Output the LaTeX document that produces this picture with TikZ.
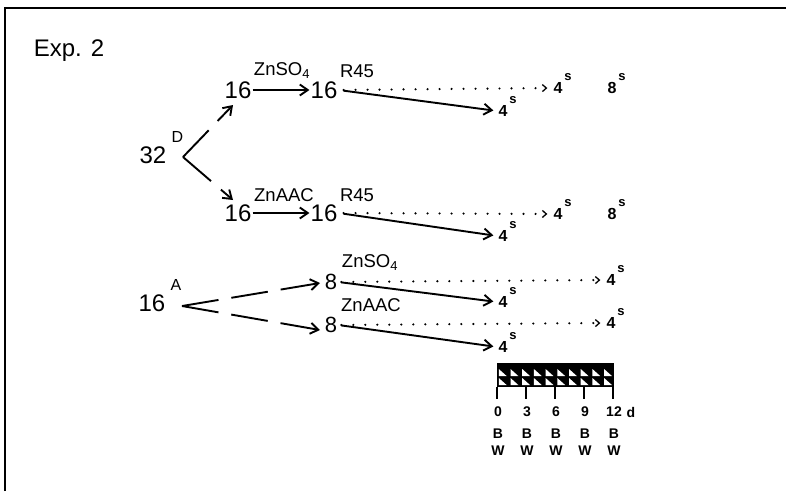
\documentclass[tikz,border=0pt]{standalone}
\usepackage{fontspec}
\setmainfont{Liberation Sans}
\usetikzlibrary{arrows.meta, calc}

\begin{document}
\begin{tikzpicture}[
  x=1pt, y=-1pt,
  > = {Straight Barb[length=8pt,width=11pt]},
  num/.style = {inner sep=1pt, font=\fontsize{24}{24}\selectfont},
  mid/.style = {inner sep=1pt, font=\fontsize{22}{22}\selectfont},
  chem/.style = {inner sep=1pt, font=\fontsize{18.5}{18.5}\selectfont},
  res/.style = {inner sep=1pt, font=\bfseries\fontsize{16}{16}\selectfont},
  sup/.style = {inner sep=0.5pt, label distance=0pt, font=\bfseries\fontsize{13}{13}\selectfont},
  supbig/.style = {inner sep=0.5pt, label distance=4pt, font=\fontsize{16}{16}\selectfont},
  day/.style = {inner sep=1pt, font=\bfseries\fontsize{14}{14}\selectfont},
  full arrow/.style = {->, line width=1.9pt},
  split arrow/.style = {->, line width=1.9pt, dash pattern=on 37pt off 13pt},
  dot arrow/.style = {line width=2.4pt, line cap=round, dash pattern=on 0pt off 12pt,
    -{Straight Barb[length=4pt,width=7pt,line width=1.3pt]}}
  ]
  \useasboundingbox (0,0) rectangle (786,491);
  % frame
  \draw[line width=2.4pt] (5,491) -- (5,8) -- (786,8);
  \node[num] (exp) at (69,51) {Exp. 2};

  % first split
  \node[num, label={[supbig]north east:D}] (d32) at (153,155) {32};
  \coordinate (fork1) at (183,157);
  \coordinate (tip1) at (233,105);
  \coordinate (tip2) at (233,200);
  \node[num] (s16a) at (238,90) {16};
  \node[num] (s16b) at (324,90) {16};
  \node[num] (a16a) at (238,213) {16};
  \node[num] (a16b) at (324,213) {16};
  \node[chem] (zso1) at (282,71) {ZnSO\textsubscript{4}};
  \node[chem] (rs1) at (357,71) {R45};
  \node[chem] (zac1) at (284,195) {ZnAAC};
  \node[chem] (rs2) at (357,195) {R45};
  \node[res, label={[sup]north east:s}] (s4t) at (503,111) {4};
  \node[res, label={[sup]north east:s}] (s4r) at (558,88) {4};
  \node[res, label={[sup]north east:s}] (s8r) at (612,88) {8};
  \node[res, label={[sup]north east:s}] (a4t) at (503,236) {4};
  \node[res, label={[sup]north east:s}] (a4r) at (558,214) {4};
  \node[res, label={[sup]north east:s}] (a8r) at (612,214) {8};
  \draw[split arrow] (fork1) -- (tip1);
  \draw[split arrow] (fork1) -- (tip2);
  \draw[full arrow] (s16a) -- (s16b);
  \draw[full arrow] (a16a) -- (a16b);
  \draw[full arrow, shorten <=5pt, shorten >=4pt] (s16b.east) -- (s4t.west);
  \draw[full arrow, shorten <=5pt, shorten >=4pt] (a16b.east) -- (a4t.west);
  \draw[dot arrow, shorten <=5pt, shorten >=5pt] (s16b.east) -- (s4r.west);
  \draw[dot arrow, shorten <=5pt, shorten >=5pt] (a16b.east) -- (a4r.west);

  % second split
  \node[num, label={[supbig]north east:A}] (d16) at (152,303) {16};
  \coordinate (fork2) at (182,306);
  \coordinate (tip3) at (320,283);
  \coordinate (tip4) at (320,330);
  \node[mid] (e8a) at (331,282) {8};
  \node[mid] (e8b) at (331,325) {8};
  \node[chem] (zso2) at (370,263) {ZnSO\textsubscript{4}};
  \node[chem] (zac2) at (371,305) {ZnAAC};
  \node[res, label={[sup]north east:s}] (e4t) at (503,302) {4};
  \node[res, label={[sup]north east:s}] (e4r) at (611,280) {4};
  \node[res, label={[sup]north east:s}] (f4t) at (503,347) {4};
  \node[res, label={[sup]north east:s}] (f4r) at (611,323) {4};
  \draw[split arrow] (fork2) -- (tip3);
  \draw[split arrow] (fork2) -- (tip4);
  \draw[full arrow, shorten <=3pt, shorten >=4pt] (e8a.east) -- (e4t.west);
  \draw[full arrow, shorten <=3pt, shorten >=4pt] (e8b.east) -- (f4t.west);
  \draw[dot arrow, shorten <=3pt, shorten >=5pt] (e8a.east) -- (e4r.west);
  \draw[dot arrow, shorten <=3pt, shorten >=5pt] (e8b.east) -- (f4r.west);

  % time bar
  \fill (497,363) rectangle (614,387);
  \foreach \i in {0,...,9}
    \foreach \j in {0,1}
      \fill[white] ({497+11.7*\i+1.8},{368+9*\j+1}) -- ++(0,7) -- ++(7.8,0) -- cycle;
  \foreach \x/\t in {497/0, 526/3, 555/6, 584/9, 613/12} {
    \draw[line width=1.8pt] (\x,387) -- (\x,399);
    \node[day] (day\t) at (\x+1,412) {\t};
    \node[day] (bb\t) at (\x+1,434) {B};
    \node[day] (ww\t) at (\x+1,451) {W};
  }
  \node[day] (unit) at (631,412) {d};
\end{tikzpicture}
\end{document}
